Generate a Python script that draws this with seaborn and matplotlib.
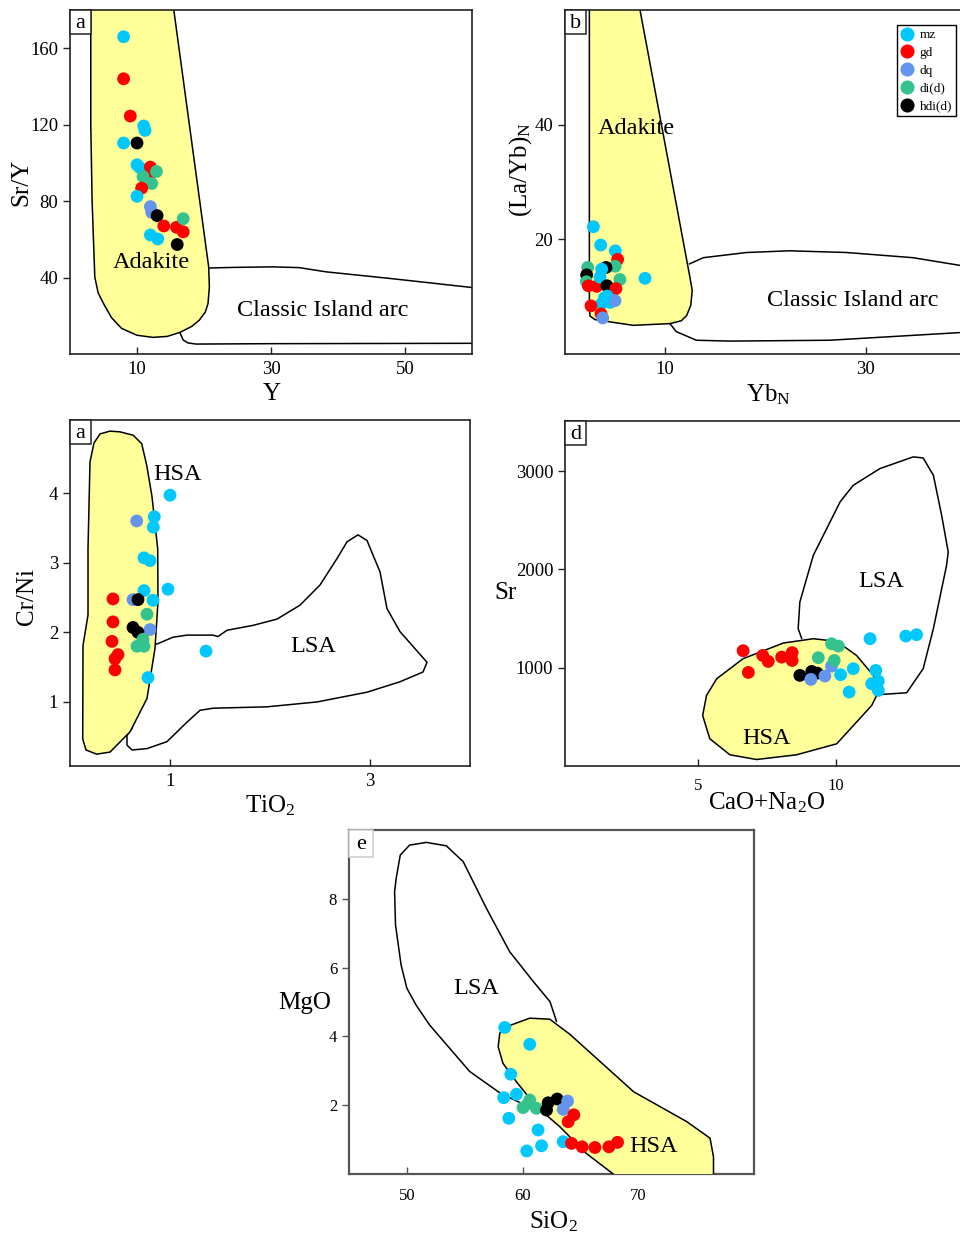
import matplotlib
matplotlib.use("Agg")
import matplotlib.pyplot as plt
from matplotlib.patches import Rectangle
import seaborn as sns
import pandas as pd

# ---------------- data ----------------
rock_order = ["mz", "gd", "dq", "di(d)", "hdi(d)"]
rock_colors = ["#00C8FF", "#FF0000", "#6495ED", "#34C38F", "#000000"]

# a) Y vs Sr/Y
a_type = ["mz", "gd", "gd", "mz", "mz", "mz", "hdi(d)", "mz", "mz", "gd", "gd", "di(d)",
          "di(d)", "di(d)", "gd", "mz", "dq", "dq", "hdi(d)", "gd", "gd", "gd", "di(d)",
          "mz", "mz", "hdi(d)"]
a_x = [8.0, 8.0, 9.0, 11.0, 11.2, 8.0, 10.0, 10.0, 10.4, 12.0, 11.8, 10.9,
       12.9, 12.2, 10.7, 10.0, 12.0, 12.2, 13.0, 14.0, 15.9, 16.9, 16.9,
       12.0, 13.1, 16.0]
a_y = [166, 144, 124.5, 119.3, 117, 110.4, 110.4, 99, 97.6, 97.8, 93.2, 92.8,
       95.5, 89.2, 86.8, 82.5, 77.1, 74.1, 72.4, 67, 66.3, 63.9, 70.8,
       62.3, 60.2, 57.3]
a_adakite_x = [3.1, 3.1, 3.3, 3.5, 3.7, 4.2, 5.0, 6.2, 7.7, 10.0, 12.4, 14.5, 16.4, 18.2,
               19.3, 20.2, 20.6, 20.8, 20.7, 15.3]
a_adakite_y = [185, 120, 80, 60, 40.3, 32.0, 26.4, 19.0, 13.4, 9.8, 8.7, 9.2, 11.3, 14.5,
               17.7, 22.0, 26.4, 35.0, 45.5, 185]
a_arc_top_x = [20.7, 24.3, 30.2, 34.2, 38.2, 48.1, 61]
a_arc_top_y = [45.0, 45.3, 45.6, 45.2, 43.0, 39.4, 34.4]
a_arc_bot_x = [16.4, 16.9, 17.6, 18.8, 30, 61]
a_arc_bot_y = [11.3, 7.3, 5.8, 5.2, 5.4, 5.6]

# b) YbN vs (La/Yb)N
b_type = ["mz", "mz", "mz", "gd", "di(d)", "hdi(d)", "mz", "di(d)", "hdi(d)", "mz", "di(d)",
          "di(d)", "gd", "gd", "mz", "hdi(d)", "gd", "mz", "mz", "dq", "mz", "gd", "gd",
          "dq", "mz"]
b_x = [2.83, 3.56, 5.02, 5.25, 5.0, 4.09, 3.66, 2.26, 2.16, 7.98, 5.48,
       2.13, 2.33, 3.16, 3.49, 4.19, 5.08, 4.22, 4.49, 4.99, 3.66, 2.59, 3.59,
       3.76, 3.93]
b_y = [22.2, 19.0, 18.0, 16.5, 15.3, 15.1, 14.8, 15.1, 13.8, 13.2, 13.0,
       12.6, 11.9, 11.8, 13.4, 11.9, 11.4, 10.1, 9.0, 9.3, 8.8, 8.4, 7.0,
       6.3, 9.8]
b_adakite_x = [2.43, 2.43, 2.5, 3.0, 4.49, 6.81, 10.47, 11.6, 12.13, 12.55, 12.69, 12.46, 7.27]
b_adakite_y = [62, 7.8, 6.6, 6.0, 5.6, 5.0, 5.3, 5.8, 6.7, 8.5, 11.1, 13.4, 62]
b_arc_top_x = [12.4, 13.8, 18.1, 22.4, 28.1, 34.7, 41]
b_arc_top_y = [15.7, 16.8, 17.7, 18.0, 17.7, 16.8, 15.0]
b_arc_bot_x = [10.47, 11.1, 13.1, 16.5, 26.4, 41]
b_arc_bot_y = [5.3, 3.9, 2.4, 2.25, 2.4, 3.9]

# c) TiO2 vs Cr/Ni
c_type = ["mz", "dq", "mz", "mz", "mz", "mz", "mz", "mz", "mz", "dq", "hdi(d)", "gd",
          "gd", "gd", "gd", "gd", "gd", "di(d)", "dq", "hdi(d)", "hdi(d)", "di(d)",
          "di(d)", "di(d)", "mz", "mz"]
c_x = [1.0, 0.667, 0.843, 0.833, 0.74, 0.80, 0.98, 0.74, 0.83, 0.63, 0.68, 0.43,
       0.43, 0.42, 0.48, 0.45, 0.45, 0.77, 0.80, 0.63, 0.68, 0.73,
       0.67, 0.74, 1.36, 0.78]
c_y = [3.97, 3.60, 3.66, 3.51, 3.07, 3.03, 2.62, 2.60, 2.46, 2.47, 2.47, 2.48,
       2.15, 1.87, 1.68, 1.62, 1.46, 2.26, 2.04, 2.07, 2.0, 1.90,
       1.80, 1.80, 1.73, 1.35]
c_hsa_x = [0.40, 0.30, 0.24, 0.20, 0.18, 0.18, 0.13, 0.127, 0.16, 0.267, 0.40, 0.60, 0.77,
           0.85, 0.88, 0.877, 0.82, 0.767, 0.717, 0.633, 0.5]
c_hsa_y = [4.89, 4.85, 4.72, 4.45, 3.2, 2.25, 1.81, 0.47, 0.31, 0.25, 0.28, 0.57, 1.05,
           1.77, 2.44, 3.20, 3.95, 4.40, 4.71, 4.83, 4.88]
c_lsa_x = [0.80, 0.883, 1.03, 1.17, 1.43, 1.48, 1.57, 1.83, 2.07, 2.30, 2.50, 2.67, 2.77,
           2.88, 2.97, 3.03, 3.10, 3.17, 3.30, 3.57, 3.53, 3.30, 2.97, 2.47, 1.97, 1.43,
           1.30, 1.17, 0.97, 0.77, 0.62, 0.57, 0.57, 0.62]
c_lsa_y = [1.80, 1.84, 1.93, 1.96, 1.96, 1.94, 2.03, 2.10, 2.19, 2.39, 2.68, 3.06, 3.30,
           3.40, 3.32, 3.11, 2.87, 2.34, 2.01, 1.57, 1.43, 1.29, 1.14, 1.0, 0.93, 0.91,
           0.88, 0.71, 0.43, 0.33, 0.31, 0.38, 0.52, 0.62]

# d) CaO+Na2O vs Sr
d_type = ["gd", "gd", "gd", "gd", "gd", "gd", "gd", "hdi(d)", "hdi(d)", "hdi(d)", "dq", "dq",
          "dq", "di(d)", "di(d)", "di(d)", "di(d)", "mz", "mz", "mz", "mz", "mz", "mz",
          "mz", "mz", "mz", "mz"]
d_x = [6.63, 6.82, 7.34, 7.54, 8.03, 8.41, 8.41, 8.69, 9.12, 9.32, 9.09, 9.60,
       9.84, 9.36, 9.84, 10.09, 9.94, 10.17, 10.63, 10.48, 11.24, 11.45, 11.30,
       11.54, 11.54, 12.54, 12.93]
d_y = [1173, 952, 1125, 1064, 1108, 1153, 1074, 922, 962, 945, 881, 915,
       1016, 1102, 1244, 1220, 1074, 929, 990, 752, 1295, 972, 837,
       864, 769, 1322, 1336]
d_hsa_x = [5.30, 5.67, 6.63, 8.09, 9.18, 10.03, 10.75, 11.36, 11.54, 11.30, 10.03, 8.57,
           7.12, 6.15, 5.42, 5.16]
d_hsa_y = [718, 888, 1092, 1251, 1295, 1268, 1125, 922, 752, 616, 226, 114,
           66, 114, 277, 514]
d_lsa_x = [11.48, 12.57, 13.17, 13.54, 14.02, 14.08, 13.84, 13.54, 13.17, 12.81, 11.60,
           10.63, 10.15, 9.18, 8.69, 8.63, 8.76]
d_lsa_y = [725, 745, 990, 1397, 2042, 2177, 2551, 2958, 3134, 3145, 3026,
           2856, 2686, 2144, 1668, 1397, 1295]

# e) SiO2 vs MgO
e_type = ["mz", "mz", "mz", "mz", "mz", "mz", "mz", "mz", "mz", "mz", "di(d)", "di(d)",
          "di(d)", "di(d)", "hdi(d)", "hdi(d)", "hdi(d)", "dq", "dq", "gd", "gd", "gd",
          "gd", "gd", "gd", "gd"]
e_x = [58.46, 60.62, 58.98, 59.47, 58.37, 58.81, 61.34, 61.64, 60.36, 63.51, 60.04, 60.62,
       61.2, 60.5, 62.07, 62.21, 62.99, 63.89, 63.51, 64.43, 63.94, 64.23,
       65.15, 66.25, 67.46, 68.21]
e_y = [4.26, 3.77, 2.90, 2.32, 2.22, 1.62, 1.28, 0.82, 0.67, 0.94, 1.93, 2.15,
       1.91, 2.05, 1.86, 2.07, 2.18, 2.12, 1.88, 1.72, 1.52, 0.89,
       0.79, 0.77, 0.79, 0.92]
e_hsa_x = [58.03, 58.6, 60.62, 62.35, 64.09, 66.4, 69.6, 74.2, 76.2, 76.5, 76.5, 69.0,
           65.5, 63.2, 61.2, 59.47, 58.3, 57.89]
e_hsa_y = [4.09, 4.28, 4.53, 4.50, 4.06, 3.36, 2.39, 1.52, 1.04, 0.5, -0.3, -0.3,
           0.60, 1.38, 1.96, 2.68, 3.22, 3.70]
e_lsa_x = [61.0, 60.05, 58.03, 55.43, 51.97, 50.8, 50.0, 49.5, 49.02, 48.94, 49.08, 49.43,
           50.23, 51.68, 53.41, 54.87, 56.88, 58.89, 60.94, 62.37, 62.94]
e_lsa_y = [1.95, 2.03, 2.36, 2.98, 4.33, 4.91, 5.40, 6.08, 7.24, 8.21, 8.60, 9.27,
           9.56, 9.64, 9.54, 9.08, 7.72, 6.46, 5.59, 5.01, 4.43]

# ---------------- style ----------------
sns.set_style("ticks")
plt.rcParams["font.family"] = ["Liberation Serif", "DejaVu Serif"]
plt.rcParams["mathtext.default"] = "regular"
plt.rcParams["text.color"] = "black"
plt.rcParams["axes.labelcolor"] = "black"
plt.rcParams["xtick.labelcolor"] = "black"
plt.rcParams["ytick.labelcolor"] = "black"

W, H = 960, 1235
fig = plt.figure(figsize=(W / 100, H / 100), dpi=100)
yellow = "#FFFF99"
palette = dict(zip(rock_order, rock_colors))


def make_ax(l, t, r, b):
    return fig.add_axes([l / W, 1 - b / H, (r - l) / W, (b - t) / H])


def scatter(ax, xs, ys, types, legend=False):
    df = pd.DataFrame({"x": xs, "y": ys, "type": types})
    sns.scatterplot(data=df, x="x", y="y", hue="type", hue_order=rock_order,
                    palette=palette, s=85, linewidth=0, ax=ax, zorder=5,
                    legend=legend)


def style_ax(ax, box, spine_col="#222222", tsize=13.5):
    for sp in ax.spines.values():
        sp.set_visible(True)
        sp.set_color(spine_col)
        sp.set_linewidth(1.2)
    ax.tick_params(axis="x", direction="in", length=5, width=1, labelsize=tsize,
                   color=spine_col, pad=5)
    ax.tick_params(axis="y", direction="out", length=5, width=1, labelsize=tsize,
                   color=spine_col)
    ax.set_xlabel("")
    ax.set_ylabel("")


def label_box(ax, box, letter, w=21, h=24, edge="#222222"):
    l, t, r, b = box
    ax.add_patch(Rectangle((0, 1 - h / (b - t)), w / (r - l), h / (b - t),
                           transform=ax.transAxes, facecolor="white",
                           edgecolor=edge, linewidth=1.1, zorder=6, clip_on=False))
    ax.text(w / 2 / (r - l), 1 - h / 2 / (b - t) - 0.004, letter, transform=ax.transAxes,
            ha="center", va="center", fontsize=16, zorder=7)


def axis_labels(ax, box, xl, xpos, yl, ypos, yrot=90):
    l, t, r, b = box
    ax.set_xlabel(xl, fontsize=18)
    ax.xaxis.set_label_coords((xpos[0] - l) / (r - l), (b - xpos[1]) / (b - t))
    ax.xaxis.label.set_va("center")
    ax.set_ylabel(yl, fontsize=18, rotation=yrot)
    ax.yaxis.set_label_coords((ypos[0] - l) / (r - l), (b - ypos[1]) / (b - t))
    ax.yaxis.label.set_va("center")
    ax.yaxis.label.set_ha("center")


line_kw = dict(color="black", linewidth=1.1, zorder=2)

# ---- panel a ----
box_a = (70, 10, 472, 354)
ax = make_ax(*box_a)
ax.fill(a_adakite_x, a_adakite_y, facecolor=yellow, edgecolor="black", linewidth=1.1, zorder=1)
ax.plot(a_arc_top_x, a_arc_top_y, **line_kw)
ax.plot(a_arc_bot_x, a_arc_bot_y, **line_kw)
scatter(ax, a_x, a_y, a_type)
ax.text(12.1, 48, "Adakite", fontsize=17.5, ha="center", va="center", zorder=4)
ax.text(37.7, 23, "Classic Island arc", fontsize=17.5, ha="center", va="center", zorder=4)
ax.set_xlim(0, 60)
ax.set_ylim(0, 180)
ax.set_xticks([10, 30, 50])
ax.set_yticks([40, 80, 120, 160])
style_ax(ax, box_a)
axis_labels(ax, box_a, "Y", (272, 394), "Sr/Y", (21, 182))
label_box(ax, box_a, "a")

# ---- panel b ----
box_b = (565, 10, 966, 354)
ax = make_ax(*box_b)
ax.fill(b_adakite_x, b_adakite_y, facecolor=yellow, edgecolor="black", linewidth=1.1, zorder=1)
ax.plot(b_arc_top_x, b_arc_top_y, **line_kw)
ax.plot(b_arc_bot_x, b_arc_bot_y, **line_kw)
scatter(ax, b_x, b_y, b_type, legend=True)
ax.text(7.08, 39.4, "Adakite", fontsize=17.5, ha="center", va="center", zorder=4)
ax.text(28.7, 9.3, "Classic Island arc", fontsize=17.5, ha="center", va="center", zorder=4)
ax.set_xlim(0, 40)
ax.set_ylim(0, 60)
ax.set_xticks([10, 30])
ax.set_yticks([20, 40])
style_ax(ax, box_b)
axis_labels(ax, box_b, "$Yb_N$", (768, 395), "$(La/Yb)_N$", (521, 170))
label_box(ax, box_b, "b")
sns.move_legend(ax, "upper left", bbox_to_anchor=(897 / W, 1 - 25 / H),
                bbox_transform=fig.transFigure, title="", fontsize=9.5,
                frameon=True, fancybox=False, edgecolor="black", framealpha=1,
                borderpad=0.3, labelspacing=0.42, handletextpad=0.5,
                handlelength=0.9, borderaxespad=0, markerscale=1.1)
ax.get_legend().get_frame().set_linewidth(1.0)

# ---- panel c ----
box_c = (70, 420, 470, 766)
ax = make_ax(*box_c)
ax.plot(c_lsa_x, c_lsa_y, **line_kw)
ax.fill(c_hsa_x, c_hsa_y, facecolor=yellow, edgecolor="black", linewidth=1.1, zorder=3)
scatter(ax, c_x, c_y, c_type)
ax.text(1.08, 4.26, "HSA", fontsize=17.5, ha="center", va="center", zorder=4)
ax.text(2.43, 1.79, "LSA", fontsize=17.5, ha="center", va="center", zorder=4)
ax.set_xlim(0, 4)
ax.set_ylim(0.08, 5.05)
ax.set_xticks([1, 3])
ax.set_yticks([1, 2, 3, 4])
style_ax(ax, box_c)
axis_labels(ax, box_c, "$TiO_2$", (270, 806), "Cr/Ni", (27, 597))
label_box(ax, box_c, "a")

# ---- panel d ----
box_d = (565, 421, 962, 766)
ax = make_ax(*box_d)
ax.plot(d_lsa_x, d_lsa_y, **line_kw)
ax.fill(d_hsa_x, d_hsa_y, facecolor=yellow, edgecolor="black", linewidth=1.1, zorder=3)
scatter(ax, d_x, d_y, d_type)
ax.text(11.66, 1872, "LSA", fontsize=17.5, ha="center", va="center", zorder=4)
ax.text(7.48, 277, "HSA", fontsize=17.5, ha="center", va="center", zorder=4)
ax.set_xlim(0.16, 14.58)
ax.set_ylim(0, 3510)
ax.set_xticks([5, 10])
ax.set_yticks([1000, 2000, 3000])
style_ax(ax, box_d)
ax.tick_params(axis="x", labelsize=12, pad=9)
axis_labels(ax, box_d, "CaO+$Na_2O$", (767, 803), "Sr", (505, 593), yrot=0)
label_box(ax, box_d, "d")

# ---- panel e ----
box_e = (349, 830, 754, 1174)
ax = make_ax(*box_e)
ax.plot(e_lsa_x, e_lsa_y, **line_kw)
ax.fill(e_hsa_x, e_hsa_y, facecolor=yellow, edgecolor="black", linewidth=1.1, zorder=3)
scatter(ax, e_x, e_y, e_type)
ax.text(56.0, 5.40, "LSA", fontsize=17.5, ha="center", va="center", zorder=4)
ax.text(71.3, 0.79, "HSA", fontsize=17.5, ha="center", va="center", zorder=4)
ax.set_xlim(45, 80)
ax.set_ylim(0, 10)
ax.set_xticks([50, 60, 70])
ax.set_yticks([2, 4, 6, 8])
style_ax(ax, box_e, spine_col="#555555", tsize=12)
ax.tick_params(axis="x", pad=10)
for sp in ax.spines.values():
    sp.set_linewidth(1.6)
axis_labels(ax, box_e, "$SiO_2$", (553, 1222), "MgO", (305, 1003), yrot=0)
label_box(ax, box_e, "e", w=24, h=27, edge="#CCCCCC")

fig.savefig("out.png", dpi=100)
